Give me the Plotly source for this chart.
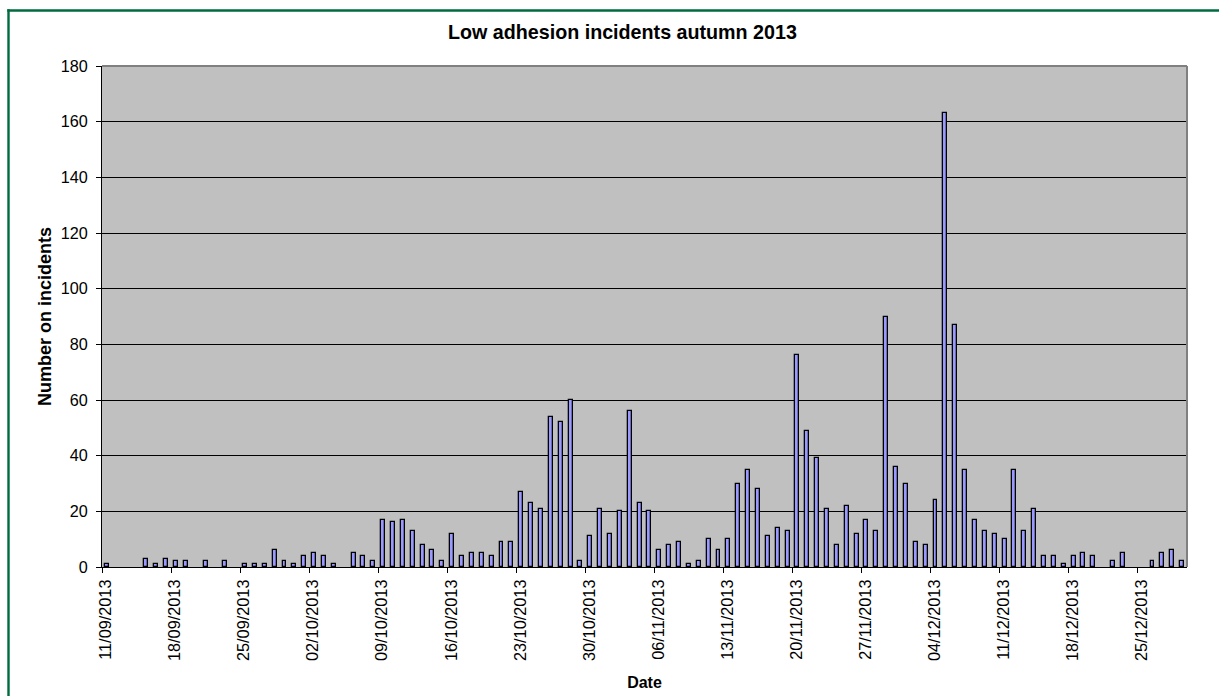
import pandas as pd
import plotly.graph_objects as go

# Daily low adhesion incident counts, 11/09/2013 - 29/12/2013
start_date = "2013-09-11"
incidents = [
    1, 0, 0, 0, 3, 1, 3, 2, 2, 0,
    2, 0, 2, 0, 1, 1, 1, 6, 2, 1,
    4, 5, 4, 1, 0, 5, 4, 2, 17, 16,
    17, 13, 8, 6, 2, 12, 4, 5, 5, 4,
    9, 9, 27, 23, 21, 54, 52, 60, 2, 11,
    21, 12, 20, 56, 23, 20, 6, 8, 9, 1,
    2, 10, 6, 10, 30, 35, 28, 11, 14, 13,
    76, 49, 39, 21, 8, 22, 12, 17, 13, 90,
    36, 30, 9, 8, 24, 163, 87, 35, 17, 13,
    12, 10, 35, 13, 21, 4, 4, 1, 4, 5,
    4, 0, 2, 5, 0, 0, 2, 5, 6, 2,
]
dates = pd.date_range(start_date, periods=len(incidents), freq="D")

tick_dates = [
    "2013-09-11", "2013-09-18", "2013-09-25", "2013-10-02", "2013-10-09",
    "2013-10-16", "2013-10-23", "2013-10-30", "2013-11-06", "2013-11-13",
    "2013-11-20", "2013-11-27", "2013-12-04", "2013-12-11", "2013-12-18",
    "2013-12-25",
]
tick_labels = [
    "11/09/2013", "18/09/2013", "25/09/2013", "02/10/2013", "09/10/2013",
    "16/10/2013", "23/10/2013", "30/10/2013", "06/11/2013", "13/11/2013",
    "20/11/2013", "27/11/2013", "04/12/2013", "11/12/2013", "18/12/2013",
    "25/12/2013",
]
x_range = ["2013-09-11", "2013-12-30"]

FONT = "Arial, Liberation Sans, sans-serif"
DAY_MS = 86400000
BORDER_GREEN = "#006B3F"

W, H = 1220, 697
ML, MR, MT, MB = 102, 33, 66, 130
PW, PH = W - ML - MR, H - MT - MB


def px_x(px):
    """Page x pixel -> paper fraction."""
    return (px - ML) / PW


def px_y(py):
    """Page y pixel (from the top) -> paper fraction."""
    return 1 - (py - MT) / PH


# days with no incidents get no outline, so nothing is drawn for them
outline_widths = [1.3 if v > 0 else 0 for v in incidents]

fig = go.Figure(
    go.Bar(
        x=dates,
        y=incidents,
        xperiod=DAY_MS,
        xperiodalignment="middle",
        width=0.4 * DAY_MS,
        marker=dict(color="#9999FF", line=dict(color="#000000", width=outline_widths)),
        hovertemplate="%{x|%d/%m/%Y}: %{y}<extra></extra>",
    )
)

fig.update_layout(
    width=W,
    height=H,
    margin=dict(l=ML, r=MR, t=MT, b=MB, autoexpand=False),
    paper_bgcolor="#FFFFFF",
    plot_bgcolor="#C0C0C0",
    showlegend=False,
    bargap=0,
    font=dict(family=FONT, color="#000000", size=16),
    title=dict(
        text="<b>Low adhesion incidents autumn 2013</b>",
        font=dict(family=FONT, size=19.7, color="#000000"),
        x=0.5102,
        xref="container",
        xanchor="center",
        y=1 - 32 / H,
        yref="container",
        yanchor="middle",
    ),
    xaxis=dict(
        type="date",
        range=x_range,
        tickmode="array",
        tickvals=tick_dates,
        ticktext=tick_labels,
        tickangle=-90,
        ticks="outside",
        ticklen=5,
        tickcolor="#000000",
        tickfont=dict(family=FONT, size=16.3),
        ticklabelshift=4,
        showgrid=False,
        showline=True,
        linecolor="#000000",
        linewidth=1,
        zeroline=False,
        title=dict(text="<b>Date</b>", font=dict(family=FONT, size=16), standoff=16),
    ),
    yaxis=dict(
        range=[0, 180],
        tickmode="linear",
        tick0=0,
        dtick=20,
        ticks="outside",
        ticklen=5,
        tickcolor="#000000",
        tickfont=dict(family=FONT, size=16.2),
        ticklabelstandoff=5,
        showgrid=True,
        gridcolor="#000000",
        gridwidth=1,
        showline=True,
        linecolor="#000000",
        linewidth=1,
        zeroline=False,
        title=dict(text="<b>Number on incidents</b>", font=dict(family=FONT, size=18), standoff=4),
    ),
    shapes=[
        # grey frame on the top and right of the plot area
        dict(type="line", xref="paper", yref="paper", x0=0, x1=1, y0=1, y1=1,
             line=dict(color="#808080", width=2)),
        dict(type="line", xref="paper", yref="paper", x0=1, x1=1, y0=0, y1=1,
             line=dict(color="#808080", width=2)),
        # green chart-area border: top edge and left edge as thin filled strips
        dict(type="rect", xref="paper", yref="paper",
             x0=px_x(7.3), x1=px_x(1219), y0=px_y(11.7), y1=px_y(9.3),
             line=dict(width=0), fillcolor=BORDER_GREEN, layer="above"),
        dict(type="rect", xref="paper", yref="paper",
             x0=px_x(7.3), x1=px_x(9.7), y0=px_y(696), y1=px_y(9.3),
             line=dict(width=0), fillcolor=BORDER_GREEN, layer="above"),
    ],
)

fig.write_html("out.html")
